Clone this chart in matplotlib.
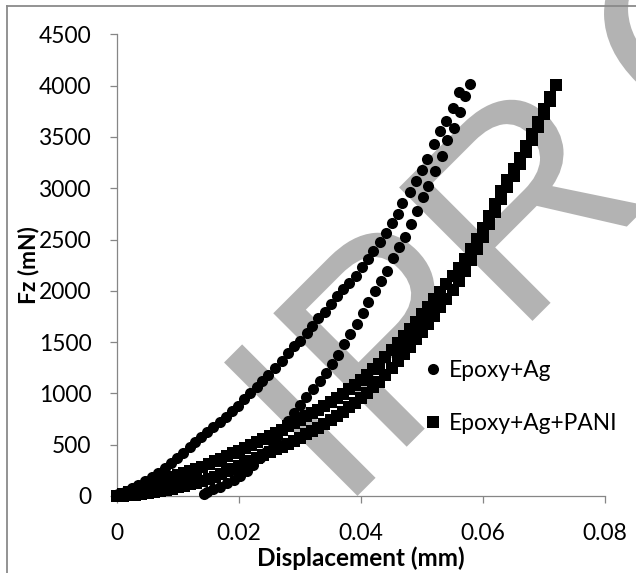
import matplotlib
matplotlib.use("Agg")
import matplotlib.pyplot as plt
from matplotlib.textpath import TextPath
from matplotlib.patches import PathPatch
from matplotlib.font_manager import FontProperties
from matplotlib.transforms import Affine2D
from matplotlib.lines import Line2D

# ---------------- data ----------------
series_labels = ["Epoxy+Ag", "Epoxy+Ag+PANI"]

ag_load_x = [0.0002, 0.0013, 0.0024, 0.0035, 0.0046, 0.0057, 0.0068, 0.0079, 0.0089, 0.0098,
             0.0109, 0.0120, 0.0128, 0.0137, 0.0147, 0.0158, 0.0169, 0.0179, 0.0189, 0.0199,
             0.0209, 0.0218, 0.0229, 0.0238, 0.0248, 0.0259, 0.0270, 0.0280, 0.0290, 0.0300,
             0.0311, 0.0320, 0.0330, 0.0341, 0.0351, 0.0361, 0.0371, 0.0381, 0.0391, 0.0401,
             0.0411, 0.0420, 0.0431, 0.0441, 0.0450, 0.0460, 0.0468, 0.0480, 0.0490, 0.0500,
             0.0509, 0.0520, 0.0530, 0.0540, 0.0550, 0.0560, 0.0578]
ag_load_f = [19, 42, 75, 107, 146, 182, 227, 270, 319, 367,
             416, 480, 529, 572, 621, 670, 718, 773, 828, 880,
             945, 1007, 1065, 1124, 1179, 1245, 1319, 1391, 1462, 1514,
             1586, 1660, 1732, 1796, 1871, 1949, 2014, 2073, 2147, 2235,
             2310, 2388, 2473, 2566, 2658, 2748, 2853, 2966, 3073, 3177,
             3284, 3428, 3557, 3655, 3778, 3934, 4015]

ag_unload_x = [0.0571, 0.0562, 0.0552, 0.0541, 0.0532, 0.0522, 0.0510, 0.0502, 0.0492, 0.0482,
               0.0472, 0.0462, 0.0453, 0.0442, 0.0433, 0.0423, 0.0412, 0.0403, 0.0393, 0.0382,
               0.0372, 0.0363, 0.0352, 0.0342, 0.0332, 0.0321, 0.0310, 0.0300, 0.0290, 0.0280,
               0.0270, 0.0262, 0.0256, 0.0245, 0.0234, 0.0223, 0.0213, 0.0202, 0.0191, 0.0180,
               0.0169, 0.0158, 0.0147, 0.0143]
ag_unload_f = [3901, 3740, 3589, 3470, 3317, 3167, 3024, 2917, 2778, 2651,
               2527, 2424, 2317, 2196, 2098, 1998, 1894, 1781, 1673, 1576,
               1481, 1374, 1286, 1202, 1124, 1040, 965, 887, 809, 731,
               653, 578, 514, 432, 367, 302, 244, 195, 156, 124,
               91, 65, 36, 17]

pani_load_x = [0.000, 0.001, 0.002, 0.003, 0.004, 0.005, 0.006, 0.007, 0.008, 0.009,
               0.010, 0.011, 0.012, 0.013, 0.014, 0.015, 0.016, 0.017, 0.018, 0.019,
               0.020, 0.021, 0.022, 0.023, 0.024, 0.025, 0.026, 0.027, 0.028, 0.029,
               0.030, 0.031, 0.032, 0.033, 0.034, 0.035, 0.036, 0.037, 0.038, 0.039,
               0.040, 0.041, 0.042, 0.043, 0.044, 0.045, 0.046, 0.047, 0.048, 0.049,
               0.050, 0.051, 0.052, 0.053, 0.054, 0.055, 0.056, 0.057, 0.058, 0.059,
               0.060, 0.061, 0.062, 0.063, 0.064, 0.065, 0.066, 0.067, 0.068, 0.069,
               0.070, 0.071, 0.072]
pani_load_f = [0, 20, 41, 62, 84, 104, 125, 146, 166, 186,
               207, 227, 247, 267, 287, 312, 338, 364, 389, 415,
               441, 468, 495, 523, 551, 583, 614, 646, 678, 711,
               744, 776, 809, 843, 878, 914, 954, 996, 1040, 1086,
               1134, 1184, 1236, 1290, 1356, 1422, 1490, 1558, 1627, 1698,
               1771, 1845, 1918, 1991, 2066, 2144, 2226, 2314, 2407, 2505,
               2615, 2732, 2850, 2968, 3081, 3189, 3297, 3410, 3528, 3646,
               3769, 3892, 4005]

pani_unload_x = [0.071, 0.070, 0.069, 0.068, 0.067, 0.066, 0.065, 0.064, 0.063, 0.062,
                 0.061, 0.060, 0.059, 0.058, 0.057, 0.056, 0.055, 0.054, 0.053, 0.052,
                 0.051, 0.050, 0.049, 0.048, 0.047, 0.046, 0.045, 0.044, 0.043, 0.042,
                 0.041, 0.040, 0.039, 0.038, 0.037, 0.036, 0.035, 0.034, 0.033, 0.032,
                 0.031, 0.030, 0.029, 0.028, 0.027, 0.026, 0.025, 0.024, 0.023, 0.022,
                 0.021, 0.020, 0.019, 0.018, 0.017, 0.016, 0.015, 0.014, 0.013, 0.012,
                 0.011, 0.010, 0.009, 0.008, 0.007, 0.006, 0.005, 0.004, 0.003, 0.002,
                 0.001]
pani_unload_f = [3848, 3721, 3594, 3472, 3350, 3233, 3121, 3009, 2892, 2770,
                 2648, 2525, 2405, 2297, 2194, 2098, 2008, 1922, 1839, 1758,
                 1679, 1601, 1526, 1453, 1382, 1314, 1246, 1180, 1114, 1060,
                 1008, 958, 910, 864, 820, 778, 738, 702, 667, 633,
                 600, 568, 539, 510, 482, 454, 427, 401, 373, 345,
                 318, 291, 265, 239, 214, 190, 168, 147, 129, 113,
                 97, 83, 70, 58, 46, 37, 28, 20, 14, 9,
                 4]

x_ticks = [0, 0.02, 0.04, 0.06, 0.08]
x_tick_labels = ["0", "0.02", "0.04", "0.06", "0.08"]
y_ticks = [0, 500, 1000, 1500, 2000, 2500, 3000, 3500, 4000, 4500]
y_tick_labels = ["0", "500", "1000", "1500", "2000", "2500", "3000", "3500", "4000", "4500"]
x_label = "Displacement (mm)"
y_label = "Fz (mN)"
watermark_letters = ["I", "P", "R", "O"]

# ---------------- figure ----------------
plt.rcParams['font.family'] = ['Lato', 'DejaVu Sans']
W, H = 636, 573
DPI = 100
FS = 16.4
AXIS_GREY = '#868686'

fig = plt.figure(figsize=(W / DPI, H / DPI), dpi=DPI)
fig.patch.set_facecolor('white')
ax = fig.add_axes([117 / W, 1 - 496 / H, 488 / W, 461.7 / H])
ax.patch.set_visible(False)

# watermark (grey diagonal letters behind the data)
wm_font = FontProperties(family='Liberation Sans')
ref = TextPath((0, 0), 'I', size=100, prop=wm_font)
cap_per_size = ref.get_extents().height / 100.0
wm_size = 188.7 / cap_per_size
wm_left = [-97.9, -28.3, 149.6, 392.0]
for ch, uleft in zip(watermark_letters, wm_left):
    tp = TextPath((0, 0), ch, size=wm_size, prop=wm_font)
    e = tp.get_extents()
    tr = Affine2D().translate(uleft - e.x0, 0).rotate_deg(45).translate(426.7, 146.3)
    fig.add_artist(PathPatch(tp, facecolor='#b3b3b3', edgecolor='none',
                             transform=tr, zorder=-1))

# outer chart border (left + top visible)
bx, by = 7 / W, 1 - 6 / H
fig.add_artist(Line2D([bx, bx], [0, by], transform=fig.transFigure, color='#8a8a8a', lw=1.3))
fig.add_artist(Line2D([bx, 1], [by, by], transform=fig.transFigure, color='#8a8a8a', lw=1.3))

ax.plot(ag_load_x + ag_unload_x, ag_load_f + ag_unload_f, linestyle='none', marker='o',
        ms=8, mew=0, color='black', label=series_labels[0], clip_on=False, zorder=3)
ax.plot(pani_load_x + pani_unload_x, pani_load_f + pani_unload_f, linestyle='none', marker='s',
        ms=8, mew=0, color='black', label=series_labels[1], clip_on=False, zorder=4)

ax.set_xlim(0, 0.08)
ax.set_ylim(0, 4500)
ax.set_xticks(x_ticks)
ax.set_xticklabels(x_tick_labels)
ax.set_yticks(y_ticks)
ax.set_yticklabels(y_tick_labels)
for s in ['top', 'right']:
    ax.spines[s].set_visible(False)
for s in ['left', 'bottom']:
    ax.spines[s].set_color(AXIS_GREY)
    ax.spines[s].set_linewidth(0.9)
ax.tick_params(direction='out', length=5.3, width=0.9, color=AXIS_GREY,
               labelsize=FS, labelcolor='black')
ax.tick_params(axis='y', pad=13)
ax.tick_params(axis='x', pad=14)

ax.set_xlabel(x_label, fontsize=17.5, fontweight='bold')
ax.xaxis.set_label_coords(0.5, -0.11)
ax.set_ylabel(y_label, fontsize=FS, fontweight='bold')
ax.yaxis.set_label_coords(-0.16, 0.5)

ax.legend(loc='center left', bbox_to_anchor=(426.2 / W, 1 - 397 / H),
          bbox_transform=fig.transFigure, frameon=False, fontsize=FS,
          handlelength=0.6, handletextpad=0.4, labelspacing=1.44,
          borderpad=0, borderaxespad=0)

fig.savefig('out.png', dpi=DPI, facecolor='white')
